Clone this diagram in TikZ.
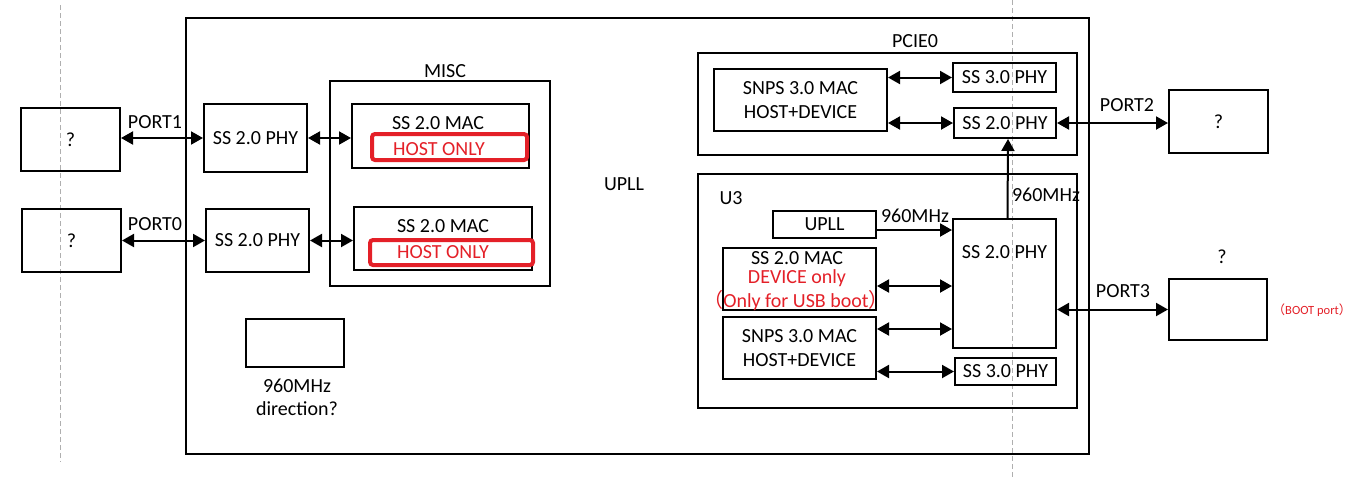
\documentclass[tikz,border=0pt]{standalone}
\usepackage{fontspec}
\setmainfont{Carlito}
\newfontfamily\cjk{Noto Sans CJK SC}
\usetikzlibrary{arrows.meta,calc}
\definecolor{myred}{RGB}{228,32,40}
\definecolor{dashgray}{RGB}{175,175,175}
\tikzset{
  base/.style={font=\fontsize{20}{23}\selectfont},
  box/.style={base,draw=black,line width=2pt,inner sep=0pt,align=center},
  redbox/.style={draw=myred,line width=4pt,rounded corners=3pt,inner sep=0pt},
  lbl/.style={base,inner sep=0pt},
  redlbl/.style={base,text=myred,inner sep=0pt},
  dbl/.style={line width=2pt,arrows={Triangle[length=12pt,width=13pt]-Triangle[length=12pt,width=13pt]}},
  sgl/.style={line width=2pt,arrows={-Triangle[length=12pt,width=13pt]}},
  guide/.style={draw=dashgray,line width=0.8pt,dash pattern=on 5pt off 3pt}
}
\begin{document}
\begin{tikzpicture}[x=1pt,y=-1pt]
\useasboundingbox (0,0) rectangle (1367,477);
\fill[white] (0,0) rectangle (1367,477);
% guide lines
\draw[guide] (60,5) -- (60,462);
\draw[guide] (1012,0) -- (1012,477);
% outer frame
\node[box,minimum width=903,minimum height=436] (outer) at (637.5,236) {};
% left devices
\node[box,minimum width=99,minimum height=63] (q1) at (70.5,139.5) {?};
\node[box,minimum width=99,minimum height=63] (q0) at (71.5,240.5) {?};
\node[box,minimum width=103,minimum height=68] (phy1) at (255.5,138) {SS 2.0 PHY};
\node[box,minimum width=103,minimum height=63] (phy0) at (257.5,240.5) {SS 2.0 PHY};
\draw[dbl] (q1.east |- phy1.west) -- (phy1.west);
\draw[dbl] (q0.east) -- (q0.east -| phy0.west);
\node[lbl] (p1lbl) at (155,122) {PORT1};
\node[lbl] (p0lbl) at (155,224) {PORT0};
% MISC
\node[box,minimum width=220,minimum height=205] (misc) at (440,183.5) {};
\node[lbl] (misclbl) at (445,71) {MISC};
\node[box,minimum width=177,minimum height=64] (mac1) at (440.5,136) {};
\node[lbl] (mac1t) at (438,123) {SS 2.0 MAC};
\node[redbox,minimum width=155,minimum height=26] (red1) at (449.5,147) {};
\node[redlbl] (host1) at (439,149) {HOST ONLY};
\node[box,minimum width=178,minimum height=63] (mac2) at (443,238.5) {};
\node[lbl] (mac2t) at (443,226) {SS 2.0 MAC};
\node[redbox,minimum width=163,minimum height=25] (red2) at (451.5,252.5) {};
\node[redlbl] (host2) at (443,252) {HOST ONLY};
\draw[dbl] (phy1.east) -- (phy1.east -| mac1.west);
\draw[dbl] (phy0.east) -- (phy0.east -| mac2.west);
% UPLL label and blank box
\node[lbl] (upllt) at (624,184) {UPLL};
\node[box,minimum width=98,minimum height=48] (blank) at (295,343) {};
\node[lbl,align=center] (dir) at (297,397) {960MHz\\direction?};
% PCIE0
\node[box,minimum width=379,minimum height=102] (pcie) at (887.5,104) {};
\node[lbl] (pcielbl) at (915,41) {PCIE0};
\node[box,minimum width=173,minimum height=62] (pmac) at (800.5,100) {SNPS 3.0 MAC\\[1pt]HOST+DEVICE};
\node[box,minimum width=103,minimum height=29] (p3phy) at (1004.5,77.5) {SS 3.0 PHY};
\node[box,minimum width=102,minimum height=30] (p2phy) at (1005,123) {SS 2.0 PHY};
\draw[dbl] (p3phy.west -| pmac.east) -- (p3phy.west);
\draw[dbl] (p2phy.west -| pmac.east) -- (p2phy.west);
% right devices
\node[box,minimum width=99,minimum height=63] (q2) at (1218.5,121.5) {?};
\draw[dbl] (p2phy.east) -- (p2phy.east -| q2.west);
\node[lbl] (p2lbl) at (1127,105) {PORT2};
% U3
\node[box,minimum width=379,minimum height=234] (u3) at (887.5,291) {};
\node[lbl] (u3lbl) at (731,198) {U3};
\node[box,minimum width=103,minimum height=27] (upll) at (824.5,224.5) {UPLL};
\node[box,minimum width=103,minimum height=129] (bphy) at (1004.5,283.5) {};
\node[lbl] (bphyt) at (1004.5,252) {SS 2.0 PHY};
\node[box,minimum width=153,minimum height=62] (dmac) at (799.5,279) {};
\node[lbl] (dmact) at (797,258) {SS 2.0 MAC};
\node[redlbl] (dmacr) at (797,278.5) {DEVICE only};
\node[redlbl] (dmacb) at (796,301) {{\cjk （}Only for USB boot{\cjk ）}};
\node[box,minimum width=153,minimum height=62] (umac) at (799.5,348) {SNPS 3.0 MAC\\[1pt]HOST+DEVICE};
\node[box,minimum width=101,minimum height=27] (u3phy) at (1005.5,371.5) {SS 3.0 PHY};
\draw[sgl] ([yshift=-5.5pt]upll.east) -- ([yshift=-5.5pt]upll.east -| bphy.west);
\node[lbl] (f1) at (915,216) {960MHz};
\draw[dbl] (dmac.east |- 0,286) -- (bphy.west |- 0,286);
\draw[dbl] (umac.east |- 0,329) -- (bphy.west |- 0,329);
\draw[dbl] (u3phy.west -| umac.east) -- (u3phy.west);
\draw[sgl] ([xshift=3pt]bphy.north) -- ([xshift=3pt]p2phy.south);
\node[lbl] (f2) at (1046,195) {960MHz};
% PORT3
\node[box,minimum width=98,minimum height=61] (q3) at (1218,309.5) {};
\node[lbl] (q3t) at (1222,257) {?};
\draw[dbl] (bphy.east |- q3.west) -- (q3.west);
\node[lbl] (p3lbl) at (1123,291) {PORT3};
\node[inner sep=0pt,text=myred,font=\fontsize{12.5}{14}\selectfont] (boot) at (1312,310) {{\cjk （}BOOT port{\cjk ）}};
\end{tikzpicture}
\end{document}
